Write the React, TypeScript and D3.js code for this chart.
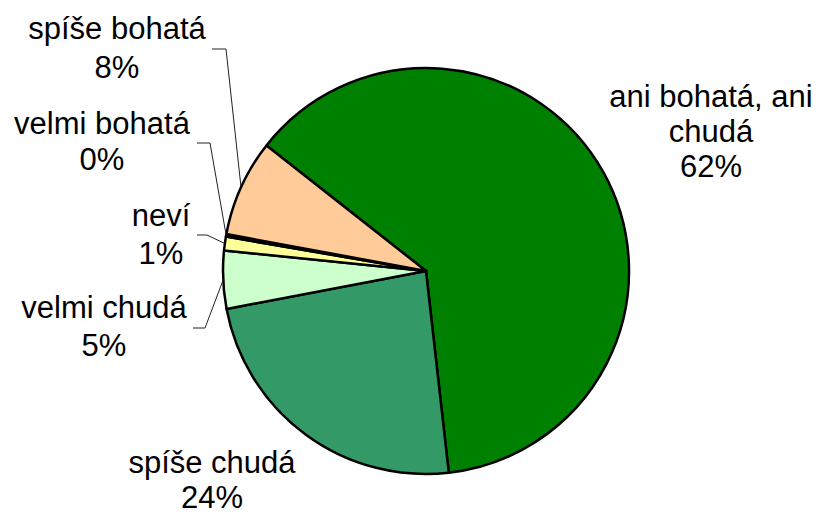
import React, { useRef, useEffect } from "react";
import * as d3 from "d3";

// slices in clockwise order, starting at the upper left edge of the big green slice
const categories = ["ani bohatá, ani chudá", "spíše chudá", "velmi chudá", "neví", "velmi bohatá", "spíše bohatá"];
const shares = [62.6, 23.8, 4.6, 1.1, 0.2, 7.7];
const percentLabels = ["62%", "24%", "5%", "1%", "0%", "8%"];
const labelLines = [
  ["ani bohatá, ani", "chudá", "62%"],
  ["spíše chudá", "24%"],
  ["velmi chudá", "5%"],
  ["neví", "1%"],
  ["velmi bohatá", "0%"],
  ["spíše bohatá", "8%"],
];

const colors = ["#008000", "#339966", "#CCFFCC", "#FFFF99", "#FFFFFF", "#FFCC99"];

// label placement: centre x, first baseline, line step, and leader start (null = no leader)
const labelLayout: { x: number; y: number; step: number; leader: [number, number, number] | null }[] = [
  { x: 711, y: 107, step: 35, leader: null },
  { x: 212, y: 473, step: 35, leader: null },
  { x: 104, y: 318, step: 38, leader: [193, 205, 328] },
  { x: 161, y: 226, step: 38, leader: [197, 207, 235] },
  { x: 102, y: 134, step: 36, leader: [197, 210, 143] },
  { x: 117, y: 39, step: 39, leader: [212, 226, 49] },
];

export default function App() {
  const svgRef = useRef<SVGSVGElement>(null);

  useEffect(() => {
    const w = 824;
    const h = 517;
    const cx = 426;
    const cy = 271;
    const r = 203;
    const svg = d3.select(svgRef.current).attr("width", w).attr("height", h);
    svg.selectAll("*").remove();

    const data = categories.map((c, i) => ({ name: c, value: shares[i], pct: percentLabels[i] }));
    const start = (-51.8 * Math.PI) / 180;
    const pie = d3
      .pie<any>()
      .sort(null)
      .value((d) => d.value)
      .startAngle(start)
      .endAngle(start + 2 * Math.PI);
    const arcs = pie(data);
    const arc = d3.arc<any>().innerRadius(0).outerRadius(r);

    const g = svg.append("g").attr("transform", `translate(${cx},${cy})`);
    g.selectAll("path")
      .data(arcs)
      .join("path")
      .attr("d", arc)
      .attr("fill", (d, i) => colors[i])
      .attr("stroke", "#000")
      .attr("stroke-width", 2.5)
      .attr("stroke-linejoin", "round");

    //leader lines to the middle of the outer arc
    arcs.forEach((a, i) => {
      const lay = labelLayout[i];
      if (!lay.leader) return;
      const mid = (a.startAngle + a.endAngle) / 2;
      const px = cx + Math.sin(mid) * r;
      const py = cy - Math.cos(mid) * r;
      const [x0, x1, y0] = lay.leader;
      svg
        .append("path")
        .attr("d", `M${x0},${y0}L${x1},${y0}L${px},${py}`)
        .attr("fill", "none")
        .attr("stroke", "#222")
        .attr("stroke-width", 1);
    });

    //labels
    labelLines.forEach((lines, i) => {
      const lay = labelLayout[i];
      const t = svg
        .append("text")
        .attr("text-anchor", "middle")
        .attr("font-family", "'Liberation Sans', Arial, sans-serif")
        .attr("font-size", 31)
        .attr("fill", "#000");
      lines.forEach((l, j) => {
        t.append("tspan").attr("x", lay.x).attr("y", lay.y + j * lay.step).text(l);
      });
    });
  }, []);

  return (
    <div style={{ position: "absolute", left: 0, top: 0 }}>
      <svg ref={svgRef}></svg>
    </div>
  );
}
